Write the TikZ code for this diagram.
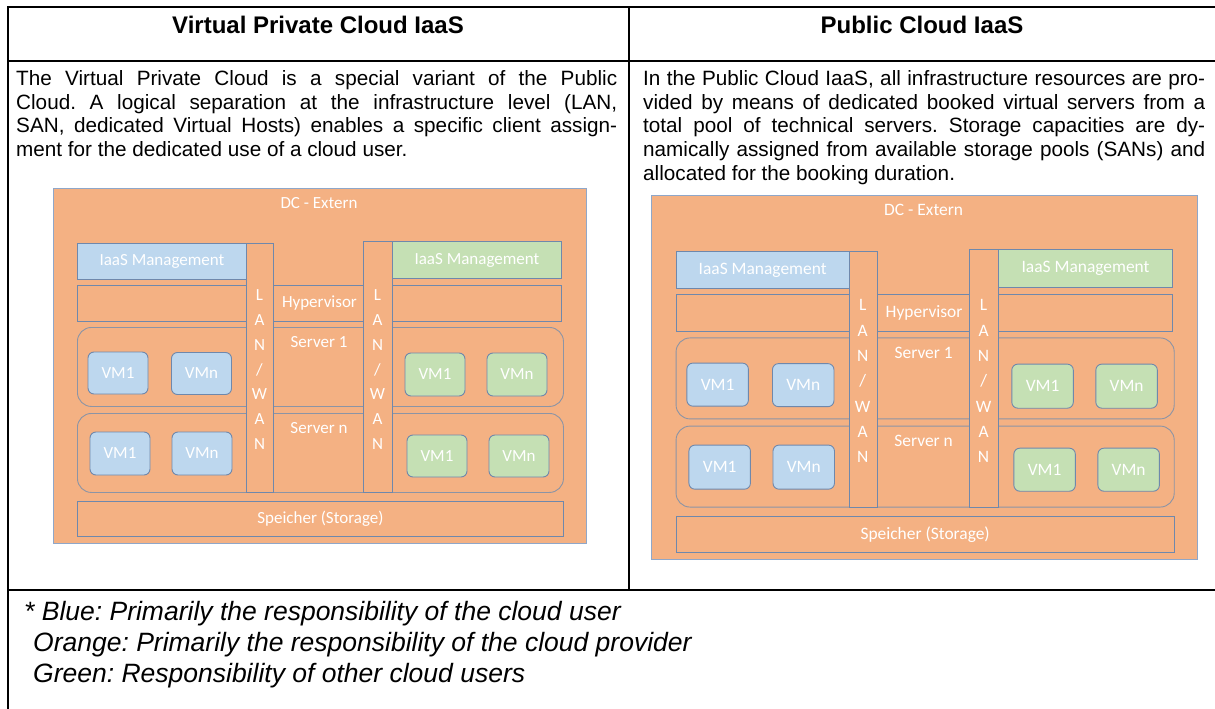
\documentclass[tikz,border=0pt]{standalone}
\usepackage{fontspec}
\setmainfont{Liberation Sans}
\newfontfamily\diagfont{Carlito}
\frenchspacing

\definecolor{orangefill}{HTML}{F4B183}
\definecolor{bluefill}{HTML}{BDD7EE}
\definecolor{greenfill}{HTML}{C5E0B4}
\definecolor{edge}{HTML}{6F88AC}
\definecolor{dcedge}{HTML}{8FA7C9}
\definecolor{srvedge}{HTML}{8C94A5}

\tikzset{
  rule/.style={line width=1.5pt, black},
  head/.style={font=\bfseries\fontsize{24}{27}\selectfont, inner sep=0pt},
  body/.style={font=\fontsize{20.7}{23.8}\selectfont, align=left, inner sep=0pt, anchor=north west},
  note/.style={font=\itshape\fontsize{26.5}{30}\selectfont, inner sep=0pt, anchor=base west},
  lbl/.style={font=\diagfont\fontsize{17}{20}\selectfont, text=white, inner sep=0pt},
  part/.style={lbl, draw=edge, line width=0.9pt, rectangle, anchor=north west},
  dcbox/.style={part, draw=dcedge, fill=orangefill},
  provider/.style={part, fill=orangefill},
  user/.style={part, fill=bluefill},
  other/.style={part, fill=greenfill},
  server/.style={part, draw=srvedge, fill=orangefill, rounded corners=14pt},
  vm/.style={lbl, draw=edge, line width=0.9pt, rounded corners=6pt,
             minimum width=60pt, minimum height=42pt},
  uservm/.style={vm, fill=bluefill},
  othervm/.style={vm, fill=greenfill},
  % one data-centre stack: management, hypervisor, servers, storage, LAN/WAN
  stack/.pic={
    \node[dcbox, minimum width=533pt, minimum height=355pt] (-dc) at (0,0) {};
    \node[lbl] (-dclbl) at (266,15) {DC - Extern};
    \node[user, minimum width=169pt, minimum height=36pt] (-mgmtU) at (24,55) {IaaS Management};
    \node[other, minimum width=169pt, minimum height=37pt] (-mgmtO) at (339,53) {IaaS Management};
    \node[provider, minimum width=484pt, minimum height=36pt] (-hyp) at (24,97) {Hypervisor};
    \node[server, minimum width=486pt, minimum height=79pt] (-srvA) at (24,139) {};
    \node[server, minimum width=486pt, minimum height=79pt] (-srvB) at (24,225) {};
    \node[provider, minimum width=486pt, minimum height=35pt] (-sto) at (24,313) {Speicher (Storage)};
    \node[lbl] (-srvAlbl) at (266,154) {Server 1};
    \node[lbl] (-srvBlbl) at (266,240) {Server n};
    % virtual machines
    \node[uservm] (-vmA1) at (65,185) {VM1};
    \node[uservm] (-vmAn) at (148.5,185.5) {VMn};
    \node[uservm, minimum height=43pt] (-vmB1) at (67,265.5) {VM1};
    \node[uservm, minimum height=43pt] (-vmBn) at (149,265.5) {VMn};
    \node[othervm, minimum height=43pt] (-ovA1) at (382,186.5) {VM1};
    \node[othervm, minimum height=43pt] (-ovAn) at (464,186.5) {VMn};
    \node[othervm] (-ovB1) at (384,268) {VM1};
    \node[othervm] (-ovBn) at (466,268) {VMn};
    % network columns
    \node[provider, minimum width=27pt, minimum height=249pt] (-lanU) at (193,55) {};
    \node[provider, minimum width=29pt, minimum height=251pt] (-lanO) at (310,53) {};
    \foreach \i in {0,...,6} {
      \node[lbl] at (206.5,107.5+24.7*\i) {\ifcase\i L\or A\or N\or /\or W\or A\or N\fi};
      \node[lbl] at (324.5,107.5+24.7*\i) {\ifcase\i L\or A\or N\or /\or W\or A\or N\fi};
    }
  }
}

\begin{document}
\begin{tikzpicture}[x=1pt, y=-1pt]
\useasboundingbox (0,0) rectangle (1215,709);
\fill[white] (0,0) rectangle (1215,709);

% table rules
\draw[rule] (8,709) -- (8,7) -- (1215,7);
\draw[rule] (8,61) -- (1215,61);
\draw[rule] (629,7) -- (629,590);
\draw[rule] (8,590) -- (1215,590);

% column heads
\node[head] (headL) at (318,25) {Virtual Private Cloud IaaS};
\node[head] (headR) at (922,25) {Public Cloud IaaS};

% descriptions
\node[body] (descL) at (16,70) {%
\makebox[601pt][s]{The Virtual Private Cloud is a special variant of the Public}\\
\makebox[601pt][s]{Cloud. A logical separation at the infrastructure level (LAN,}\\
\makebox[601pt][s]{SAN, dedicated Virtual Hosts) enables a specific client assign-}\\
ment for the dedicated use of a cloud user.};

\node[body] (descR) at (643,70) {%
\makebox[562pt][s]{In the Public Cloud IaaS, all infrastructure resources are pro-}\\
\makebox[562pt][s]{vided by means of dedicated booked virtual servers from a}\\
\makebox[562pt][s]{total pool of technical servers. Storage capacities are dy-}\\
\makebox[562pt][s]{namically assigned from available storage pools (SANs) and}\\
allocated for the booking duration.};

% diagrams
\pic (L) at (53,188) {stack};
\pic[scale=1.025, transform shape] (R) at (651,195) {stack};

% legend
\node[note] (noteA) at (24,620) {* Blue: Primarily the responsibility of the cloud user};
\node[note] (noteB) at (33,651) {Orange: Primarily the responsibility of the cloud provider};
\node[note] (noteC) at (33,682) {Green: Responsibility of other cloud users};
\end{tikzpicture}
\end{document}
